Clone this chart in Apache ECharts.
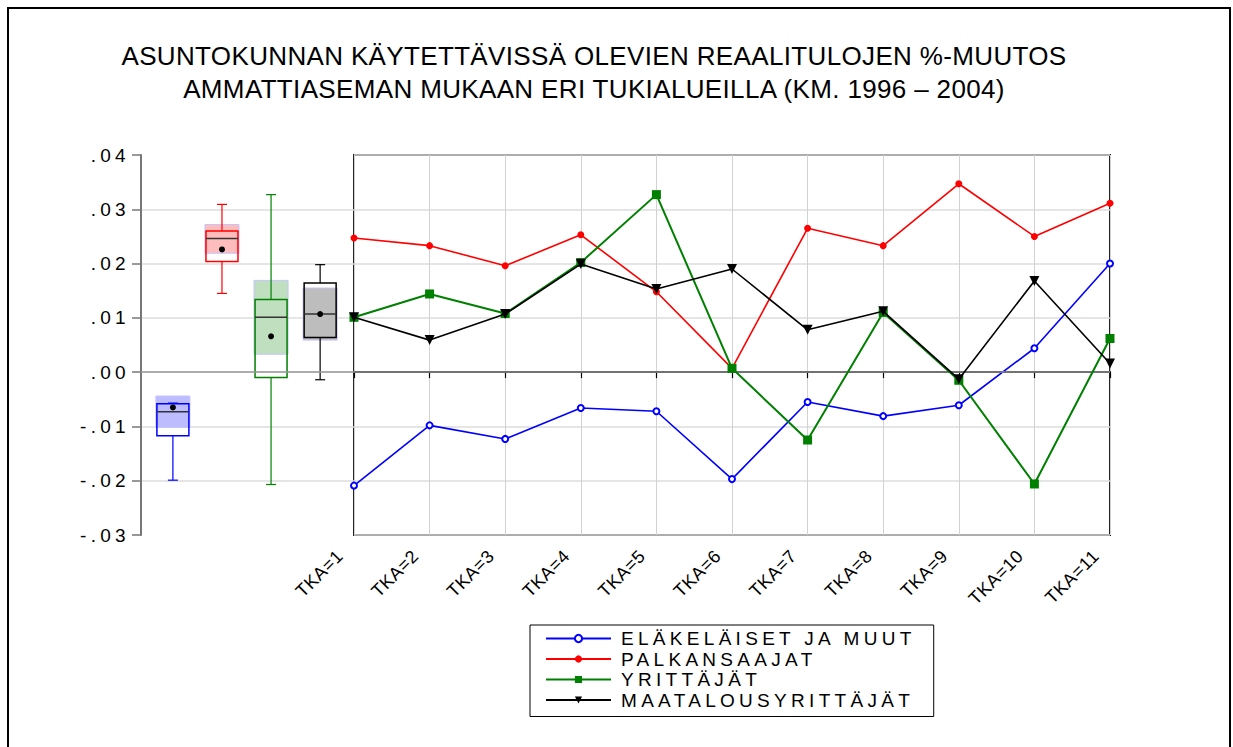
<!DOCTYPE html>
<html lang="fi">
<head>
    <meta charset="UTF-8">
    <title>Reaalitulojen muutos</title>
    <style>
        body, html {
            margin: 0;
            width: 100%;
            height: 100%;
            background: #fff;
        }

        #container {
            width: 1233px;
            height: 747px;
        }
        /* EViews-tyylinen leveä teksti (svg-teksteille) */
        #container text[style*="19px"] {
            letter-spacing: 4.3px;
        }
        #container text[style*="18px"] {
            letter-spacing: 0.5px;
        }
        #container text[style*="26px"] {
            letter-spacing: 0.35px;
        }
    </style>
    <script src="https://cdn.jsdelivr.net/npm/echarts/dist/echarts.min.js"></script>
</head>
<body>
<div id="container"></div>
<script type="text/javascript">
    var categories = ['TKA=1', 'TKA=2', 'TKA=3', 'TKA=4', 'TKA=5', 'TKA=6', 'TKA=7', 'TKA=8', 'TKA=9', 'TKA=10', 'TKA=11'];
    var seriesNames = ['ELÄKELÄISET JA MUUT', 'PALKANSAAJAT', 'YRITTÄJÄT', 'MAATALOUSYRITTÄJÄT'];

    var elakelaiset = [-0.0209, -0.0098, -0.0123, -0.0066, -0.0072, -0.0197, -0.0055, -0.0081, -0.0061, 0.0044, 0.0200];
    var palkansaajat = [0.0247, 0.0233, 0.0196, 0.0253, 0.0148, 0.0007, 0.0265, 0.0233, 0.0347, 0.0250, 0.0311];
    var yrittajat = [0.0101, 0.0144, 0.0108, 0.0202, 0.0327, 0.0007, -0.0125, 0.0110, -0.0015, -0.0206, 0.0062];
    var maatalous = [0.0101, 0.0059, 0.0107, 0.0199, 0.0153, 0.0190, 0.0078, 0.0112, -0.0013, 0.0168, 0.0016];

    // laatikot: eläkeläiset, palkansaajat, yrittäjät, maatalousyrittäjät
    var boxLow = [-0.0199, 0.0145, -0.0207, -0.0014];
    var boxQ1 = [-0.0117, 0.0204, -0.0010, 0.0064];
    var boxMedian = [-0.0073, 0.0246, 0.0101, 0.0107];
    var boxQ3 = [-0.0058, 0.0260, 0.0134, 0.0164];
    var boxHigh = [-0.0057, 0.0309, 0.0327, 0.0198];
    var boxMean = [-0.0065, 0.0226, 0.0066, 0.0107];
    var shadeLow = [-0.0102, 0.0219, 0.0033, 0.0059];
    var shadeHigh = [-0.0044, 0.0272, 0.0169, 0.0155];

    var lineColors = ['#0000ff', '#ff0000', '#008000', '#000000'];
    var shadeColors = ['#bcbcff', '#ffbcbc', '#bfdfbf', '#bdbdbd'];
    var FONT = 'Arial';

    var boxData = [];
    for (var i = 0; i < boxLow.length; i++) {
        boxData.push([i + 1, boxLow[i], boxQ1[i], boxMedian[i], boxQ3[i], boxHigh[i], boxMean[i], shadeLow[i], shadeHigh[i]]);
    }

    function yLabel(v) {
        var s = Math.abs(v).toFixed(2).slice(1);
        return (v < -1e-9 ? '-' : '') + s;
    }

    function renderBox(params, api) {
        var x = api.value(0);
        var lo = api.coord([x, api.value(1)]);
        var q1 = api.coord([x, api.value(2)]);
        var md = api.coord([x, api.value(3)]);
        var q3 = api.coord([x, api.value(4)]);
        var hi = api.coord([x, api.value(5)]);
        var mn = api.coord([x, api.value(6)]);
        var sl = api.coord([x, api.value(7)]);
        var sh = api.coord([x, api.value(8)]);
        var c = lineColors[params.dataIndex];
        var cx = q1[0], hw = 16, cap = 5;
        return {
            type: 'group',
            children: [
                {type: 'rect', shape: {x: cx - hw - 1, y: sh[1], width: 2 * hw + 2, height: sl[1] - sh[1]},
                    style: {fill: shadeColors[params.dataIndex], stroke: '#c4c4ff', lineWidth: 1}},
                {type: 'line', shape: {x1: cx, y1: q3[1], x2: cx, y2: hi[1]}, style: {stroke: c, lineWidth: 1.2}},
                {type: 'line', shape: {x1: cx, y1: q1[1], x2: cx, y2: lo[1]}, style: {stroke: c, lineWidth: 1.2}},
                {type: 'line', shape: {x1: cx - cap, y1: hi[1], x2: cx + cap, y2: hi[1]}, style: {stroke: c, lineWidth: 1.2}},
                {type: 'line', shape: {x1: cx - cap, y1: lo[1], x2: cx + cap, y2: lo[1]}, style: {stroke: c, lineWidth: 1.2}},
                {type: 'rect', shape: {x: cx - hw, y: q3[1], width: 2 * hw, height: q1[1] - q3[1]},
                    style: {fill: 'none', stroke: c, lineWidth: 1.5}},
                {type: 'line', shape: {x1: cx - hw, y1: md[1], x2: cx + hw, y2: md[1]}, style: {stroke: '#333', lineWidth: 1.5}},
                {type: 'circle', shape: {cx: cx, cy: mn[1], r: 3}, style: {fill: '#000'}}
            ]
        };
    }

    var zeroLine = {
        silent: true,
        symbol: 'none',
        label: {show: false},
        lineStyle: {color: '#999', width: 1.5, type: 'solid'},
        data: [{yAxis: 0}]
    };

    function lineSeries(idx, values, symbol, size, width, rotate) {
        return {
            name: seriesNames[idx],
            type: 'line',
            xAxisIndex: 1,
            yAxisIndex: 1,
            data: values,
            symbol: symbol,
            symbolSize: size,
            symbolRotate: rotate || 0,
            showAllSymbol: true,
            z: 3 + idx,
            lineStyle: {color: lineColors[idx], width: width, type: 'solid'},
            itemStyle: {color: lineColors[idx], borderWidth: symbol === 'emptyCircle' ? 1.3 : 0}
        };
    }

    var dom = document.getElementById('container');
    var myChart = echarts.init(dom, null, {renderer: 'svg'});

    var option = {
        animation: false,
        backgroundColor: '#fff',
        textStyle: {fontFamily: FONT, color: '#000'},
        grid: [
            {left: 141, top: 155, width: 213, height: 380, outerBoundsMode: 'none'},
            {left: 354, top: 155, width: 756, height: 380, show: true, borderColor: '#222', borderWidth: 2,
                backgroundColor: 'transparent', outerBoundsMode: 'none'}
        ],
        xAxis: [
            {gridIndex: 0, type: 'value', min: 0.35, max: 4.69, show: false},
            {
                gridIndex: 1, type: 'category', data: categories, boundaryGap: false,
                axisLine: {show: true, lineStyle: {color: '#000', width: 2}},
                axisTick: {show: true, length: 6, inside: false, lineStyle: {color: '#000', width: 1.2}},
                axisLabel: {rotate: 45, fontSize: 18, fontFamily: FONT, color: '#000', margin: 4, interval: 0,
                    padding: [0, 20, 12, 0]},
                splitLine: {show: true, lineStyle: {color: '#d2d2d2', width: 1}}
            }
        ],
        yAxis: [
            {
                gridIndex: 0, type: 'value', min: -0.03, max: 0.04, interval: 0.01,
                axisLine: {show: true, lineStyle: {color: '#777', width: 2}},
                axisTick: {show: true, length: 9, inside: false, lineStyle: {color: '#777', width: 1.5}},
                axisLabel: {formatter: yLabel, fontSize: 19, fontFamily: FONT, color: '#000', margin: 11},
                splitLine: {show: true, showMinLine: false, showMaxLine: false, lineStyle: {color: '#dcdcdc', width: 1.5}}
            },
            {
                gridIndex: 1, type: 'value', min: -0.03, max: 0.04, interval: 0.01,
                axisLine: {show: false}, axisTick: {show: false}, axisLabel: {show: false},
                splitLine: {show: true, lineStyle: {color: '#dcdcdc', width: 1.5}}
            }
        ],
        legend: {
            data: seriesNames,
            orient: 'vertical',
            left: 530,
            top: 625,
            padding: [4, 97, 7, 15],
            itemWidth: 65,
            itemHeight: 9,
            itemGap: 1.5,
            borderColor: '#000',
            borderWidth: 1,
            backgroundColor: '#fff',
            selectedMode: false,
            textStyle: {fontSize: 19, lineHeight: 19, fontFamily: FONT, color: '#000', padding: [0, 0, 0, 5]}
        },
        graphic: [
            {type: 'rect', z: 100, silent: true, shape: {x: 8, y: 8, width: 1222, height: 800},
                style: {fill: 'none', stroke: '#000', lineWidth: 2}},
            {type: 'text', x: 594, y: 56, silent: true,
                style: {text: 'ASUNTOKUNNAN KÄYTETTÄVISSÄ OLEVIEN REAALITULOJEN %-MUUTOS', fontSize: 26, fontFamily: FONT,
                    fill: '#000', align: 'center', verticalAlign: 'middle'}},
            {type: 'text', x: 594, y: 89, silent: true,
                style: {text: 'AMMATTIASEMAN MUKAAN ERI TUKIALUEILLA (KM. 1996 – 2004)', fontSize: 26, fontFamily: FONT,
                    fill: '#000', align: 'center', verticalAlign: 'middle'}}
        ],
        series: [
            {
                type: 'custom', xAxisIndex: 0, yAxisIndex: 0, data: boxData, renderItem: renderBox,
                encode: {x: 0, y: [1, 2, 3, 4, 5, 6, 7, 8]}, clip: false, z: 3,
                markLine: zeroLine
            },
            lineSeries(0, elakelaiset, 'emptyCircle', 6, 1.6),
            lineSeries(1, palkansaajat, 'circle', 7, 1.6),
            lineSeries(2, yrittajat, 'rect', 9, 2),
            lineSeries(3, maatalous, 'triangle', 10, 1.6, 180)
        ]
    };
    option.series[1].markLine = zeroLine;
    myChart.setOption(option);
</script>
</body>
</html>
